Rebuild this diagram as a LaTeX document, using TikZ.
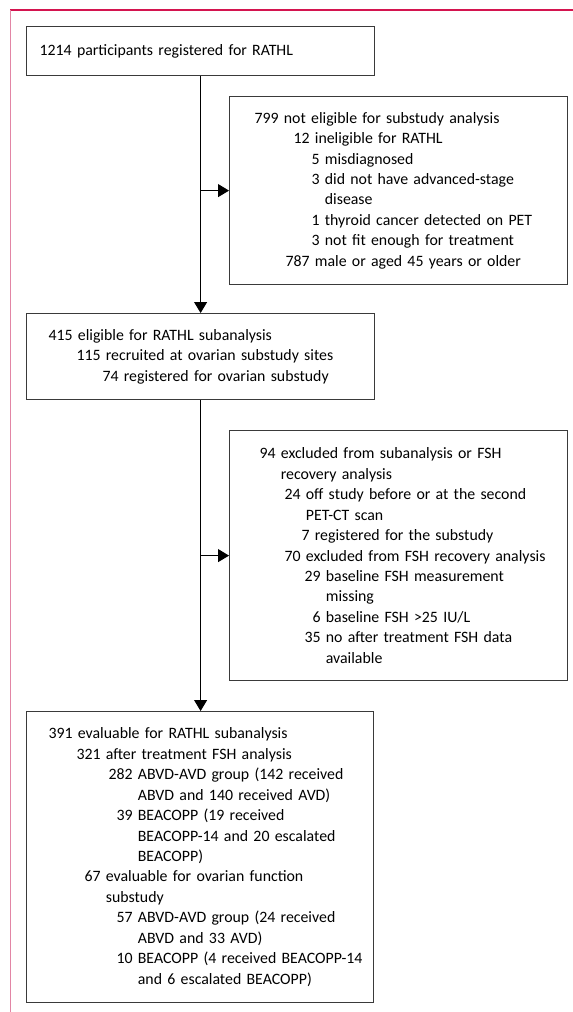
\documentclass[tikz,border=0pt]{standalone}
\usepackage{fontspec}
\setmainfont{Carlito}[WordSpace=0.72]
\usetikzlibrary{arrows.meta,positioning}
\definecolor{framered}{HTML}{D4144F}
\definecolor{framepink}{HTML}{E285A5}
\definecolor{boxgray}{HTML}{3A3A3A}
% numbered line: number set flush right at #1, then its text
\newcommand{\ent}[3]{\makebox[#1bp][r]{#2}\ #3}
% continued line, lined up with the text after the number
\newcommand{\cnt}[2]{\hspace*{#1bp}\ #2}

\begin{document}
\begin{tikzpicture}[x=1bp,y=-1bp,
    box/.style={draw=boxgray, line width=1.2bp, anchor=north west, inner xsep=0pt,
      inner ysep=0pt, align=left, font=\fontsize{15.9}{20.5}\selectfont},
    arr/.style={-{Triangle[width=13bp,length=11bp]}, line width=1.1bp}]
  \useasboundingbox (0,0) rectangle (573,1012);
% frame
  \draw[framered, line width=1.6bp] (10,10) -- (573,10);
  \draw[framepink, line width=1.6bp] (10.5,10) -- (10.5,1012);
% boxes
  \node[box, minimum width=348bp, minimum height=49bp, text width=348bp] (reg) at (26,26)
    {\hspace*{13bp}1214 participants registered for RATHL};
  \node[box, minimum width=338bp, minimum height=188bp, text width=338bp] (noteli) at (229,96)
    {\ent{49}{799}{not eligible for substudy analysis}\\
     \ent{80}{12}{ineligible for RATHL}\\
     \ent{90}{5}{misdiagnosed}\\
     \ent{90}{3}{did not have advanced-stage}\\
     \cnt{90}{disease}\\
     \ent{90}{1}{thyroid cancer detected on PET}\\
     \ent{90}{3}{not fit enough for treatment}\\
     \ent{80}{787}{male or aged 45 years or older}};
  \node[box, minimum width=348bp, minimum height=86bp, text width=348bp] (elig) at (26,313)
    {\ent{46}{415}{eligible for RATHL subanalysis}\\
     \ent{74}{115}{recruited at ovarian substudy sites}\\
     \ent{92}{74}{registered for ovarian substudy}};
  \node[box, minimum width=338bp, minimum height=250bp, text width=338bp] (excl) at (229,430)
    {\ent{46}{94}{excluded from subanalysis or FSH}\\
     \cnt{46}{recovery analysis}\\
     \ent{71}{24}{off study before or at the second}\\
     \cnt{71}{PET-CT scan}\\
     \ent{80}{7}{registered for the substudy}\\
     \ent{71}{70}{excluded from FSH recovery analysis}\\
     \ent{91}{29}{baseline FSH measurement}\\
     \cnt{91}{missing}\\
     \ent{91}{6}{baseline FSH >25 IU/L}\\
     \ent{91}{35}{no after treatment FSH data}\\
     \cnt{91}{available}};
  \node[box, minimum width=347bp, minimum height=291bp, text width=347bp] (eval) at (26,711)
    {\ent{46}{391}{evaluable for RATHL subanalysis}\\
     \ent{74}{321}{after treatment FSH analysis}\\
     \ent{106}{282}{ABVD-AVD group (142 received}\\
     \cnt{106}{ABVD and 140 received AVD)}\\
     \ent{106}{39}{BEACOPP (19 received}\\
     \cnt{106}{BEACOPP-14 and 20 escalated}\\
     \cnt{106}{BEACOPP)}\\
     \ent{74}{67}{evaluable for ovarian function}\\
     \cnt{74}{substudy}\\
     \ent{106}{57}{ABVD-AVD group (24 received}\\
     \cnt{106}{ABVD and 33 AVD)}\\
     \ent{106}{10}{BEACOPP (4 received BEACOPP-14}\\
     \cnt{106}{and 6 escalated BEACOPP)}};
% arrows
  \draw[arr] (reg.south) -- (elig.north);
  \draw[arr] (noteli.west -| reg.south) -- (noteli.west);
  \draw[arr] (elig.south) -- (elig.south |- eval.north);
  \draw[arr] (excl.west -| elig.south) -- (excl.west);
\end{tikzpicture}
\end{document}
